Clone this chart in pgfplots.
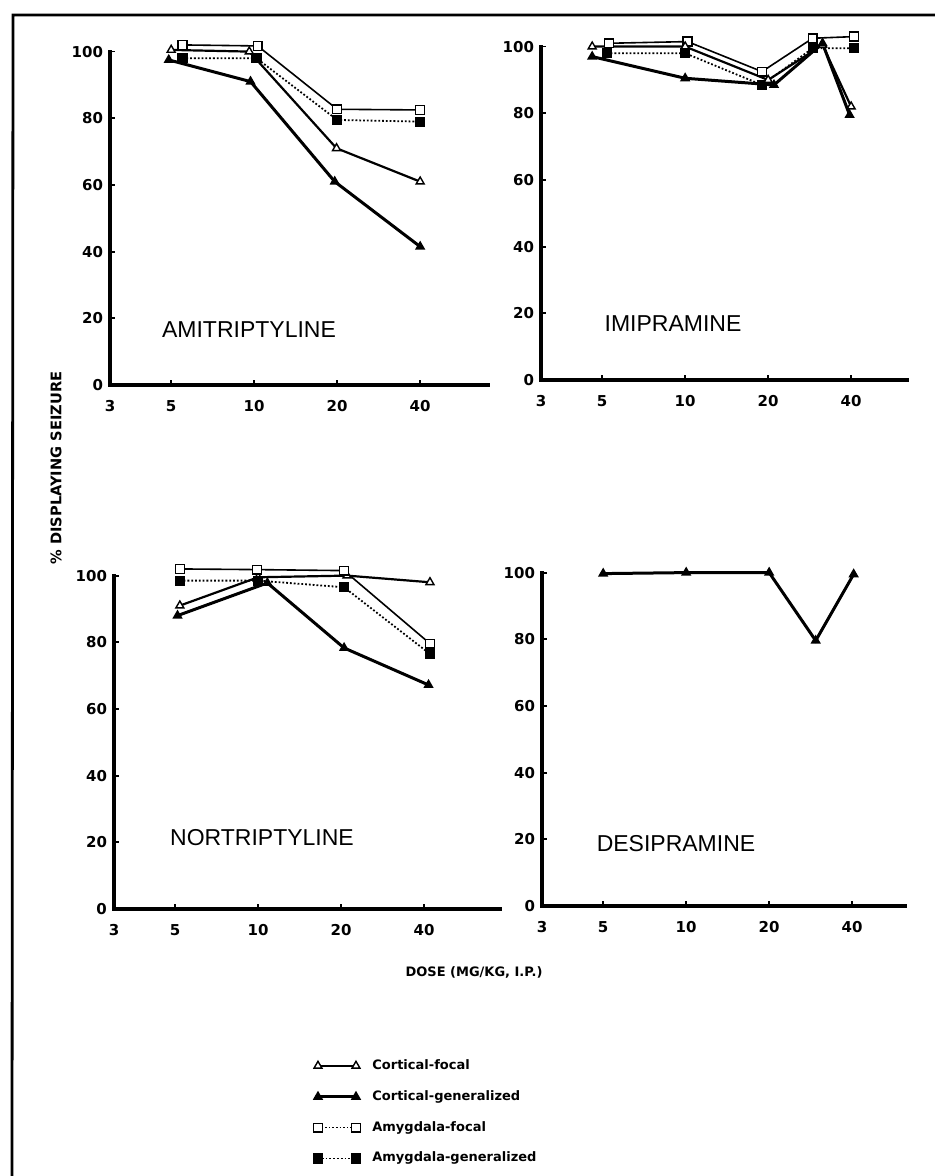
\documentclass[border=0pt]{standalone}
\usepackage{fontspec}
\setmainfont{Liberation Sans}
\newfontfamily\djv{DejaVu Sans}
\usepackage{pgfplots}
\pgfplotsset{compat=1.18}

\pgfplotsset{
  every axis/.append style={
    scale only axis, xmin=3, ymin=0, ymax=100,
    height=166.7pt, clip=false, enlargelimits=false,
    axis lines*=left, axis line style={line width=2pt, line cap=rect},
    xtick={3,5,10,20,40}, xticklabels={3,5,10,20,40},
    ytick={0,20,40,60,80,100}, xminorticks=false,
    tick align=inside, major tick length=2.5pt,
    tick style={black, line width=0.9pt},
    tick label style={font=\djv\bfseries\fontsize{7.5}{8}\selectfont},
    /pgf/number format/assume math mode=true,
    xticklabel style={yshift=-4pt},
  },
  cf/.style={black, line width=1.1pt, mark=triangle*, mark size=2.3pt,
    mark options={solid, fill=white, line width=0.7pt},
    legend image code/.code={\draw[##1] plot coordinates {(0pt,0pt) (19pt,0pt)};}},
  cg/.style={black, line width=1.5pt, mark=triangle*, mark size=2.3pt,
    mark options={solid, fill=black, line width=0.7pt},
    legend image code/.code={\draw[##1] plot coordinates {(0pt,0pt) (19pt,0pt)};}},
  af/.style={black, line width=0.8pt, mark=square*, mark size=2.2pt,
    mark options={solid, fill=white, line width=0.7pt},
    legend image code/.code={\draw[##1, densely dotted] plot coordinates {(0pt,0pt) (19pt,0pt)};}},
  ag/.style={black, line width=0.9pt, densely dotted, mark=square*, mark size=2.2pt,
    mark options={solid, fill=black, line width=0.7pt},
    legend image code/.code={\draw[##1, densely dotted] plot coordinates {(0pt,0pt) (19pt,0pt)};}},
}

\begin{document}
\begin{tikzpicture}
\path[use as bounding box] (0pt,0pt) rectangle (467.5pt,-588pt);

\begin{scope}[x=0.5pt,y=-0.5pt]
\draw[line width=1.4pt] (935,15) -- (13,15) -- (12,1176);
\node[font=\fontsize{11.5}{12}\selectfont] at (249,330) {AMITRIPTYLINE};
\node[font=\fontsize{11.5}{12}\selectfont] at (673,324) {IMIPRAMINE};
\node[font=\fontsize{11.5}{12}\selectfont] at (262,838) {NORTRIPTYLINE};
\node[font=\fontsize{11.5}{12}\selectfont] at (676,844) {DESIPRAMINE};
\node[rotate=90, font=\djv\bfseries\fontsize{7.3}{8}\selectfont] at (56,468) {\% DISPLAYING SEIZURE};
\node[font=\djv\bfseries\fontsize{6.5}{7}\selectfont] at (474,972) {DOSE (MG/KG, I.P.)};
\end{scope}

% Amitriptyline
\begin{axis}[xmode=log, at={(55pt,-192.5pt)}, anchor=south west, width=189pt, xmax=70.5]
\addplot[af] coordinates {(5.5,102) (10.3,101.7) (20,82.7) (40,82.5)};
\addplot[ag] coordinates {(5.5,98) (10.2,98) (20,79.5) (40,79)};
\addplot[cf] coordinates {(5,100.5) (9.6,100) (19.9,71) (40,61)};
\addplot[cg] coordinates {(4.9,97.5) (9.7,91) (19.6,61) (40,41.5)};
\end{axis}

% Imipramine
\begin{axis}[xmode=log, at={(270.5pt,-190pt)}, anchor=south west, width=183pt, xmax=63.8]
\addplot[af] coordinates {(5.3,101) (10.2,101.5) (19,92.5) (29,102.5) (41,103)};
\addplot[ag] coordinates {(5.2,98) (10,98) (19,88.5) (29,99.5) (41,99.5)};
\addplot[cf] coordinates {(4.6,100) (10,100) (20,90) (31.5,100.5) (40,82)};
\addplot[cg] coordinates {(4.6,97) (10,90.5) (21,88.5) (31.5,101) (39.5,79.5)};
\end{axis}

% Nortriptyline (carries the legend)
\begin{axis}[xmode=log, at={(57pt,-454.5pt)}, anchor=south west, width=193pt, xmax=75.4,
  legend cell align=left,
  legend style={at={(0.516,-0.438)}, anchor=north west, draw=none, fill=none,
    font=\djv\bfseries\fontsize{6.5}{7}\selectfont,
    row sep=5pt, column sep=4pt, inner sep=0pt}]
\addplot[cf] coordinates {(5.2,91) (10,99.5) (21,100) (42,98)};
\addlegendentry{Cortical-focal}
\addplot[cg] coordinates {(5.1,88) (10.8,97.8) (20.5,78.3) (41.5,67.2)};
\addlegendentry{Cortical-generalized}
\addplot[af] coordinates {(5.2,102) (9.9,101.8) (20.5,101.5) (42,79.6)};
\addlegendentry{Amygdala-focal}
\addplot[ag] coordinates {(5.2,98.5) (10,98.5) (20.5,96.5) (42,76.5)};
\addlegendentry{Amygdala-generalized}
\end{axis}

% Desipramine
\begin{axis}[xmode=log, at={(271pt,-453pt)}, anchor=south west, width=181.5pt, xmax=62.2]
\addplot[cg] coordinates {(5,99.7) (10,100) (20,100) (29.5,79.6) (40.5,99.5)};
\end{axis}

\end{tikzpicture}
\end{document}
